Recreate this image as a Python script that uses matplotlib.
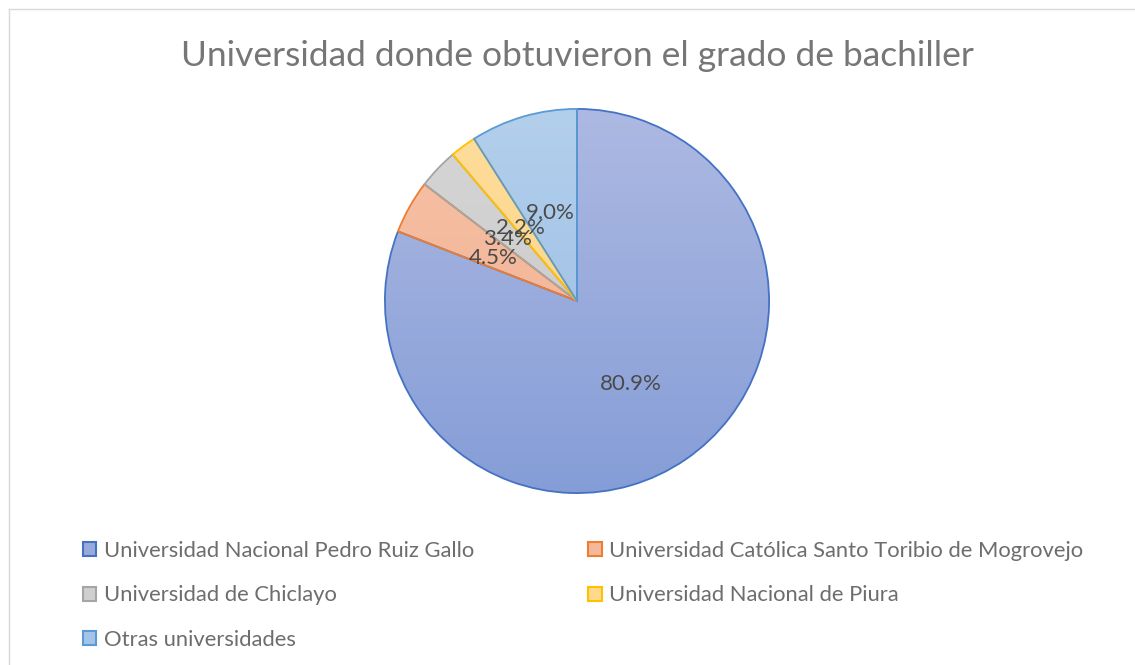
import numpy as np
import matplotlib
matplotlib.use("Agg")
import matplotlib.pyplot as plt
from matplotlib.colors import LinearSegmentedColormap
from matplotlib.patches import Rectangle, Wedge

plt.rcParams['font.family'] = ['Lato', 'DejaVu Sans']

# data
labels = ["Universidad Nacional Pedro Ruiz Gallo",
          "Universidad Católica Santo Toribio de Mogrovejo",
          "Universidad de Chiclayo",
          "Universidad Nacional de Piura",
          "Otras universidades"]
values = [80.9, 4.5, 3.4, 2.2, 9.0]

edge_cols = ["#4472c4", "#ed7d31", "#a5a5a5", "#ffc000", "#5b9bd5"]
top_cols = ["#adb9e2", "#f6c2a8", "#d6d6d6", "#fedd9c", "#b3cfec"]
bot_cols = ["#859dd7", "#f2ad8c", "#c6c6c6", "#fdd27e", "#97bbe4"]
mid_cols = ["#98aadc", "#f4b89a", "#cfcfcf", "#fed98e", "#a5c5e8"]

W, H = 1135, 665
fig = plt.figure(figsize=(W / 100, H / 100), dpi=100)

# chart border (only top/left visible)
fig.add_artist(plt.Line2D([8.5 / W, 1], [1 - 9 / H, 1 - 9 / H], color="#d9d9d9", lw=1))
fig.add_artist(plt.Line2D([8.5 / W, 8.5 / W], [0, 1 - 9 / H], color="#d9d9d9", lw=1))

cx, cy, r = 577, 301, 194
ax = fig.add_axes([(cx - r) / W, (H - cy - r) / H, 2 * r / W, 2 * r / H])
wedges, texts, autotexts = ax.pie(values, startangle=90, counterclock=False,
                                  colors=mid_cols, autopct="%.1f%%", pctdistance=0.5,
                                  wedgeprops=dict(edgecolor="none", linewidth=0),
                                  textprops=dict(color="#4a4a4a", fontsize=16))

# vertical gradient fill clipped by each wedge
grad = np.linspace(0, 1, 256).reshape(-1, 1)
for w, t, b in zip(wedges, top_cols, bot_cols):
    cmap = LinearSegmentedColormap.from_list("g", [t, b])
    im = ax.imshow(grad, cmap=cmap, extent=[-1, 1, -1, 1], origin="upper", zorder=1, aspect="auto")
    im.set_clip_path(w)
    w.set_zorder(0)
for w, e in zip(wedges, edge_cols):
    ax.add_patch(Wedge(w.center, w.r, w.theta1, w.theta2,
                       facecolor="none", edgecolor=e, lw=1.3, zorder=2))
for t in autotexts:
    t.set_zorder(3)
    x, y = t.get_position()
    t.set_position((x, y - 0.02))
ax.set_xlim(-1.01, 1.01)
ax.set_ylim(-1.01, 1.01)
ax.set_aspect("equal")
ax.axis("off")

fig.text(577 / W, 1 - 56 / H, "Universidad donde obtuvieron el grado de bachiller",
         ha="center", va="center", fontsize=25.5, color="#767676")

# legend, row-major order
order = [0, 2, 4, 1, 3]
handles = [Rectangle((0, 0), 1, 1, facecolor=mid_cols[i], edgecolor=edge_cols[i], lw=1.5) for i in order]
fig.legend(handles, [labels[i] for i in order], ncol=2, loc="upper left",
           bbox_to_anchor=(63 / W, 1 - 521 / H), frameon=False,
           fontsize=15.85, labelcolor="#6d6d6d", handlelength=0.6, handleheight=0.6,
           handletextpad=0.35, columnspacing=5.2, labelspacing=1.12)

fig.savefig("out.png", dpi=100)
